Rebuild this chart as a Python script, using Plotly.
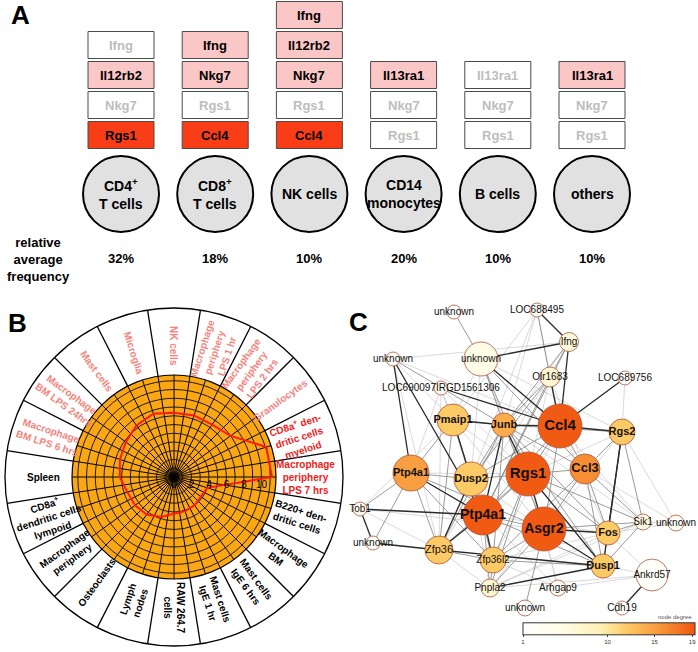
import math
import plotly.graph_objects as go

W, H = 698, 652
FONT = "Liberation Sans, Arial, Helvetica, sans-serif"

# ---------------- Panel A data ----------------
cell_types = ["CD4<sup>+</sup><br>T cells", "CD8<sup>+</sup><br>T cells", "NK cells",
              "CD14<br>monocytes", "B cells", "others"]
frequency_pct = [32, 18, 10, 20, 10, 10]
marker_genes = [
    ["Rgs1", "Nkg7", "Il12rb2", "Ifng"],
    ["Ccl4", "Rgs1", "Nkg7", "Ifng"],
    ["Ccl4", "Rgs1", "Nkg7", "Il12rb2", "Ifng"],
    ["Rgs1", "Nkg7", "Il13ra1"],
    ["Rgs1", "Nkg7", "Il13ra1"],
    ["Rgs1", "Nkg7", "Il13ra1"],
]
# 0 = not enriched, 1 = enriched, 2 = top marker
marker_level = [
    [2, 0, 1, 0],
    [2, 0, 1, 1],
    [2, 0, 1, 1, 1],
    [0, 0, 1],
    [0, 0, 0],
    [0, 0, 1],
]

# ---------------- Panel B data ----------------
tissues = [
    "Macrophage<br>periphery<br>LPS 7 hrs",
    "CD8a<sup>+</sup> den-<br>dritic cells<br>myeloid",
    "Granulocytes",
    "Macrophage<br>periphery<br>LPS 2 hrs",
    "Macrophage<br>periphery<br>LPS 1 hr",
    "NK cells",
    "Microglia",
    "Mast cells",
    "Macrophage<br>BM LPS 24hrs",
    "Macrophage<br>BM LPS 6 hrs",
    "Spleen",
    "CD8a<sup>+</sup><br>dendritic cells<br>lympoid",
    "Macrophage<br>periphery",
    "Osteoclasts",
    "Lymph<br>nodes",
    "RAW 264.7<br>cells",
    "Mast cells<br>IgE 1 hr",
    "Mast cells<br>IgE 6 hrs",
    "Macrophage<br>BM",
    "B220+ den-<br>dritic cells",
]
tissue_group = ["high", "high", "mid", "mid", "mid", "mid", "mid", "mid", "mid", "mid",
                "low", "low", "low", "low", "low", "low", "low", "low", "low", "low"]
tissue_value = [11.2, 11.1, 8.0, 7.4, 7.4, 7.35, 7.6, 7.3, 6.8, 6.5,
                6.2, 5.6, 5.5, 5.3, 4.8, 4.2, 4.1, 4.0, 3.8, 4.0]
radial_ticks = [0, 2, 4, 6, 8, 10]

# ---------------- Panel C data ----------------
node_ids = ["u_top", "LOC688495", "Ifng", "u_big", "u_left", "Olr1683", "LOC689756", "LOC690097",
            "Pmaip1", "Junb", "Ccl4", "Rgs2", "Ptp4a1_l", "Dusp2", "Rgs1", "Ccl3", "Ptp4a1_c",
            "Asgr2", "Fos", "Sik1", "u_right", "Tob1", "u_lb", "Zfp36", "Zfp36l2", "Dusp1",
            "Ankrd57", "Pnpla2", "Arhgap9", "u_bottom", "Cdh19"]
node_labels = ["unknown", "LOC688495", "Ifng", "unknown", "unknown", "Olr1683", "LOC689756",
               "LOC690097IRGD1561306", "Pmaip1", "Junb", "Ccl4", "Rgs2", "Ptp4a1", "Dusp2", "Rgs1",
               "Ccl3", "Ptp4a1", "Asgr2", "Fos", "Sik1", "unknown", "Tob1", "unknown", "Zfp36",
               "Zfp36l2", "Dusp1", "Ankrd57", "Pnpla2", "Arhgap9", "unknown", "Cdh19"]
# network layout coordinates (layout units)
node_x = [454, 537, 569, 481, 393, 550, 625, 441, 453, 504, 560, 622, 411, 471, 528, 585, 483,
          544, 608, 643, 676, 360, 373, 439, 493, 603, 652, 490, 558, 525, 622]
node_y = [312, 310, 342, 359, 359, 377, 378, 388, 420, 425, 426, 432, 473, 479, 474, 469, 515,
          529, 533, 522, 523, 509, 543, 550, 560, 566, 575, 588, 588, 608, 608]
node_degree = [1, 2, 6, 5, 2, 7, 2, 3, 12, 14, 19, 12, 15, 12, 19, 16, 19,
               19, 12, 6, 2, 3, 2, 12, 12, 12, 2, 7, 3, 1, 1]
node_weight = [7, 7, 9.5, 17, 7, 10, 7, 7, 16, 12, 22, 13, 18, 17, 22, 15, 20,
               22, 12, 8, 8, 7, 7, 14, 13, 12, 16, 9, 8, 8, 7]
edges = [
    ("u_top", "u_big", 2),
    ("LOC688495", "Ifng", 3), ("LOC688495", "Olr1683", 2), ("LOC688495", "Ccl4", 1),
    ("LOC688495", "Junb", 1), ("LOC688495", "Pmaip1", 1), ("LOC688495", "Dusp2", 1),
    ("Ifng", "u_big", 3), ("Ifng", "u_left", 1), ("Ifng", "Ccl4", 3), ("Ifng", "Olr1683", 2),
    ("Ifng", "Junb", 2), ("Ifng", "Dusp2", 1), ("Ifng", "Ptp4a1_c", 2),
    ("u_left", "Ptp4a1_l", 3), ("u_left", "Pmaip1", 1), ("u_left", "Ccl4", 1),
    ("u_left", "Junb", 2), ("u_left", "Ptp4a1_c", 3), ("u_left", "Zfp36", 1),
    ("u_big", "Rgs1", 2), ("u_big", "Ccl4", 3), ("u_big", "Junb", 2), ("u_big", "Pmaip1", 1),
    ("u_big", "Dusp2", 1), ("u_big", "Ccl3", 2), ("u_big", "Rgs2", 1), ("u_big", "Asgr2", 1),
    ("Olr1683", "Ccl4", 3), ("Olr1683", "Junb", 2), ("Olr1683", "Dusp2", 2),
    ("Olr1683", "Ptp4a1_c", 2), ("Olr1683", "Rgs1", 1), ("Olr1683", "Ccl3", 1), ("Olr1683", "Zfp36", 1),
    ("LOC689756", "Ccl4", 3), ("LOC689756", "Rgs2", 1),
    ("LOC690097", "Pmaip1", 1), ("LOC690097", "Ccl4", 3), ("LOC690097", "Ptp4a1_l", 1),
    ("LOC690097", "Zfp36", 1), ("LOC690097", "Rgs1", 1), ("LOC690097", "Dusp2", 1),
    ("Pmaip1", "Junb", 3), ("Pmaip1", "Dusp2", 3), ("Pmaip1", "Ptp4a1_l", 2),
    ("Pmaip1", "Ptp4a1_c", 2), ("Pmaip1", "Zfp36", 2), ("Pmaip1", "Rgs1", 1),
    ("Pmaip1", "Asgr2", 1), ("Pmaip1", "Tob1", 1),
    ("Junb", "Ccl4", 3), ("Junb", "Rgs1", 3), ("Junb", "Asgr2", 2), ("Junb", "Ccl3", 2),
    ("Junb", "Dusp2", 2), ("Junb", "Ptp4a1_c", 3), ("Junb", "Zfp36", 2), ("Junb", "Zfp36l2", 2),
    ("Junb", "Fos", 2), ("Junb", "Dusp1", 2), ("Junb", "Sik1", 1), ("Junb", "Rgs2", 2),
    ("Ccl4", "Rgs2", 3), ("Ccl4", "Rgs1", 2), ("Ccl4", "Ccl3", 2), ("Ccl4", "Asgr2", 2),
    ("Ccl4", "Fos", 1), ("Ccl4", "Sik1", 1), ("Ccl4", "Dusp2", 2), ("Ccl4", "Ptp4a1_c", 2),
    ("Ccl4", "Zfp36l2", 1),
    ("Rgs2", "Ccl3", 2), ("Rgs2", "Fos", 3), ("Rgs2", "Dusp1", 3), ("Rgs2", "Sik1", 2),
    ("Rgs2", "u_right", 1), ("Rgs2", "Asgr2", 1), ("Rgs2", "Rgs1", 1),
    ("Ptp4a1_l", "Dusp2", 2), ("Ptp4a1_l", "Ptp4a1_c", 3), ("Ptp4a1_l", "Tob1", 2),
    ("Ptp4a1_l", "u_lb", 2), ("Ptp4a1_l", "Zfp36", 2), ("Ptp4a1_l", "Rgs1", 1),
    ("Ptp4a1_l", "Asgr2", 2), ("Ptp4a1_l", "Zfp36l2", 2),
    ("Dusp2", "Rgs1", 2), ("Dusp2", "Ptp4a1_c", 2), ("Dusp2", "Zfp36", 3),
    ("Dusp2", "Zfp36l2", 2), ("Dusp2", "Asgr2", 1), ("Dusp2", "Pnpla2", 1),
    ("Rgs1", "Ccl3", 2), ("Rgs1", "Ptp4a1_c", 2), ("Rgs1", "Asgr2", 3), ("Rgs1", "Fos", 2),
    ("Rgs1", "Dusp1", 3), ("Rgs1", "Sik1", 2), ("Rgs1", "Zfp36l2", 2), ("Rgs1", "Pnpla2", 2),
    ("Rgs1", "Arhgap9", 1), ("Rgs1", "Zfp36", 2),
    ("Ccl3", "Asgr2", 2), ("Ccl3", "Fos", 2), ("Ccl3", "Dusp1", 2), ("Ccl3", "Sik1", 2),
    ("Ccl3", "u_right", 1), ("Ccl3", "Zfp36l2", 2), ("Ccl3", "Pnpla2", 1),
    ("Ptp4a1_c", "Asgr2", 2), ("Ptp4a1_c", "Zfp36l2", 3), ("Ptp4a1_c", "Zfp36", 3),
    ("Ptp4a1_c", "Tob1", 3), ("Ptp4a1_c", "Fos", 1), ("Ptp4a1_c", "Dusp1", 2),
    ("Ptp4a1_c", "Pnpla2", 2), ("Ptp4a1_c", "Arhgap9", 1),
    ("Asgr2", "Fos", 3), ("Asgr2", "Dusp1", 3), ("Asgr2", "Zfp36l2", 2), ("Asgr2", "Pnpla2", 2),
    ("Asgr2", "u_bottom", 2), ("Asgr2", "Sik1", 2), ("Asgr2", "Arhgap9", 1),
    ("Fos", "Sik1", 2), ("Fos", "Dusp1", 2), ("Fos", "Zfp36l2", 1), ("Fos", "u_right", 1),
    ("Fos", "Ankrd57", 1), ("Fos", "Pnpla2", 1),
    ("Tob1", "u_lb", 3), ("Tob1", "Zfp36", 1), ("Tob1", "Asgr2", 1),
    ("u_lb", "Zfp36", 3),
    ("Zfp36", "Zfp36l2", 2), ("Zfp36", "Dusp1", 3), ("Zfp36", "Pnpla2", 1),
    ("Zfp36l2", "Dusp1", 2), ("Zfp36l2", "Pnpla2", 2),
    ("Dusp1", "Pnpla2", 3), ("Dusp1", "Ankrd57", 1), ("Dusp1", "Sik1", 2),
    ("Ankrd57", "Cdh19", 3), ("Ankrd57", "Pnpla2", 1), ("Ankrd57", "Arhgap9", 1),
    ("Arhgap9", "Zfp36l2", 1),
    ("Sik1", "u_right", 1), ("Sik1", "Pnpla2", 1),
]
degree_ticks = [1, 10, 15, 19]

# ---------------- styles ----------------
level_fill = {0: "#ffffff", 1: "#fbc6c6", 2: "#f93d16"}
level_text = {0: "#bdbdbd", 1: "#000000", 2: "#000000"}
group_color = {"high": "#ee1c1c", "mid": "#f4837d", "low": "#000000"}
bold_nodes = {"Pmaip1", "Junb", "Ccl4", "Rgs2", "Ptp4a1_l", "Dusp2", "Rgs1", "Ccl3",
              "Ptp4a1_c", "Asgr2", "Fos", "Dusp1"}
label_size = {"Ccl4": 15, "Rgs1": 15, "Asgr2": 14, "Ptp4a1_c": 14, "Ccl3": 13, "Ptp4a1_l": 11,
              "Dusp2": 11, "Junb": 11, "Pmaip1": 11, "Rgs2": 11, "Fos": 11, "Dusp1": 11,
              "Zfp36": 11}
edge_style = {1: ("#c8c8c8", 0.7), 2: ("#808080", 0.8), 3: ("#2a2a2a", 1.3)}
degree_scale = [[0, "#ffffff"], [0.25, "#fffbe4"], [0.45, "#fff0b4"], [0.6, "#fdca66"],
                [0.78, "#f99b3e"], [1, "#f05510"]]

fig = go.Figure()
shapes = []
annotations = []

# ================= Panel A =================
col_x0, col_pitch = 121, 94.2
row_y0, row_pitch = 135, 30
box_w, box_h = 66, 27
circ_y, circ_r = 194, 38
for i, (ct, genes, levels, pct) in enumerate(zip(cell_types, marker_genes, marker_level, frequency_pct)):
    cx = col_x0 + col_pitch * i
    for k, (g, lv) in enumerate(zip(genes, levels)):
        cy = row_y0 - row_pitch * k
        shapes.append(dict(type="rect", xref="x", yref="y", x0=cx - box_w / 2, x1=cx + box_w / 2,
                           y0=cy - box_h / 2, y1=cy + box_h / 2, fillcolor=level_fill[lv],
                           line=dict(color="#4a4a4a", width=1)))
        annotations.append(dict(x=cx, y=cy, xref="x", yref="y", text="<b>%s</b>" % g, showarrow=False,
                                font=dict(family=FONT, size=13, color=level_text[lv])))
    shapes.append(dict(type="circle", xref="x", yref="y", x0=cx - circ_r, x1=cx + circ_r,
                       y0=circ_y - circ_r, y1=circ_y + circ_r, fillcolor="#e1e1e1",
                       line=dict(color="#000000", width=2)))
    annotations.append(dict(x=cx, y=circ_y, xref="x", yref="y", text="<b>%s</b>" % ct, showarrow=False,
                            font=dict(family=FONT, size=14, color="black")))
    annotations.append(dict(x=cx, y=258, xref="x", yref="y", text="<b>%d%%</b>" % pct, showarrow=False,
                            font=dict(family=FONT, size=13, color="black")))
annotations.append(dict(x=38, y=259, xref="x", yref="y", text="<b>relative<br>average<br>frequency</b>",
                        showarrow=False, font=dict(family=FONT, size=13, color="black")))

# ================= Panel B =================
pcx, pcy = 174, 477
r_in, r_out, r_lab = 102, 169, 131
r_max = 11.66
n = len(tissues)
step = 360.0 / n
thetas = [step * k for k in range(n)]
shapes.append(dict(type="circle", xref="x", yref="y", x0=pcx - r_out, x1=pcx + r_out,
                   y0=pcy - r_out, y1=pcy + r_out, line=dict(color="black", width=1.3), layer="below"))
for k in range(n):
    a = math.radians(thetas[k] + step / 2)
    shapes.append(dict(type="line", xref="x", yref="y",
                       x0=pcx + r_in * math.cos(a), y0=pcy - r_in * math.sin(a),
                       x1=pcx + r_out * math.cos(a), y1=pcy - r_out * math.sin(a),
                       line=dict(color="black", width=1.3)))
for k, (t, grp) in enumerate(zip(tissues, tissue_group)):
    th = thetas[k]
    a = math.radians(th)
    if 90 <= th < 270:
        ang = 180 - th
    else:
        ang = -th
        if ang <= -180:
            ang += 360
    annotations.append(dict(x=pcx + r_lab * math.cos(a), y=pcy - r_lab * math.sin(a), xref="x", yref="y",
                            text="<b>%s</b>" % t, showarrow=False, textangle=ang,
                            font=dict(family=FONT, size=10, color=group_color[grp])))

fig.add_trace(go.Scatterpolar(r=tissue_value + tissue_value[:1], theta=thetas + thetas[:1],
                              mode="lines", line=dict(color="#ff1a1a", width=2),
                              hoverinfo="skip", showlegend=False))
grid_vals = list(range(0, 12))
grid_text = [str(v) if v in radial_ticks else "" for v in grid_vals]

# ================= Panel C =================
idx = {nid: i for i, nid in enumerate(node_ids)}
for cls in (1, 2, 3):
    ex, ey = [], []
    for s, t, w in edges:
        if w != cls:
            continue
        ex += [node_x[idx[s]], node_x[idx[t]], None]
        ey += [node_y[idx[s]], node_y[idx[t]], None]
    col, wid = edge_style[cls]
    fig.add_trace(go.Scatter(x=ex, y=ey, mode="lines", line=dict(color=col, width=wid),
                             hoverinfo="skip", showlegend=False, xaxis="x", yaxis="y"))

node_text = [("<b>%s</b>" % lab) if nid in bold_nodes else lab for nid, lab in zip(node_ids, node_labels)]
node_fs = [label_size.get(nid, 10) for nid in node_ids]
fig.add_trace(go.Scatter(
    x=node_x, y=node_y, mode="markers+text", text=node_text, textposition="middle center",
    textfont=dict(family=FONT, size=node_fs, color="#111111"),
    marker=dict(size=[2 * v for v in node_weight], color=node_degree, colorscale=degree_scale,
                cmin=1, cmax=19.3, line=dict(color="#a9573a", width=0.8), opacity=1,
                showscale=True,
                colorbar=dict(orientation="h", x=609 / W, xanchor="center", y=(H - 646) / H,
                              yanchor="bottom", len=172 / W, lenmode="fraction", thickness=12,
                              thicknessmode="pixels", outlinewidth=1, outlinecolor="#333333",
                              tickvals=degree_ticks, ticks="outside", ticklen=2,
                              tickfont=dict(family=FONT, size=6, color="#333333"), xpad=0, ypad=0)),
    hoverinfo="text", showlegend=False, cliponaxis=False))
annotations.append(dict(x=694, y=617, xref="x", yref="y", text="node degree", showarrow=False,
                        xanchor="right", font=dict(family=FONT, size=6, color="#555555")))

# panel letters
for letter, lx, ly in (("A", 20, 15), ("B", 17, 323), ("C", 358, 322)):
    annotations.append(dict(x=lx, y=ly, xref="x", yref="y", text="<b>%s</b>" % letter, showarrow=False,
                            font=dict(family=FONT, size=26, color="black")))

fig.update_layout(
    width=W, height=H, autosize=False, margin=dict(l=0, r=0, t=0, b=0, pad=0, autoexpand=False),
    paper_bgcolor="white", plot_bgcolor="white",
    xaxis=dict(range=[0, W], visible=False, domain=[0, 1], fixedrange=True),
    yaxis=dict(range=[H, 0], visible=False, domain=[0, 1], fixedrange=True),
    polar=dict(
        domain=dict(x=[(pcx - r_in) / W, (pcx + r_in) / W],
                    y=[1 - (pcy + r_in) / H, 1 - (pcy - r_in) / H]),
        bgcolor="#fba714",
        radialaxis=dict(range=[0, r_max], tickvals=grid_vals, ticktext=grid_text, angle=0,
                        tickangle=0, showline=False, gridcolor="#1a1a1a", gridwidth=0.7, ticks="",
                        tickfont=dict(family=FONT, size=10, color="black"), layer="above traces"),
        angularaxis=dict(tickvals=[v * step / 2 for v in range(2 * n)], showticklabels=False,
                         ticks="", gridcolor="#000000", gridwidth=0.9, linecolor="black",
                         linewidth=1.2, rotation=0, direction="counterclockwise",
                         layer="below traces"),
    ),
    shapes=shapes, annotations=annotations, showlegend=False,
)

fig.write_html("out.html", config={"displayModeBar": False},
               post_script="document.body.style.margin='0px';document.body.style.padding='0px';")
